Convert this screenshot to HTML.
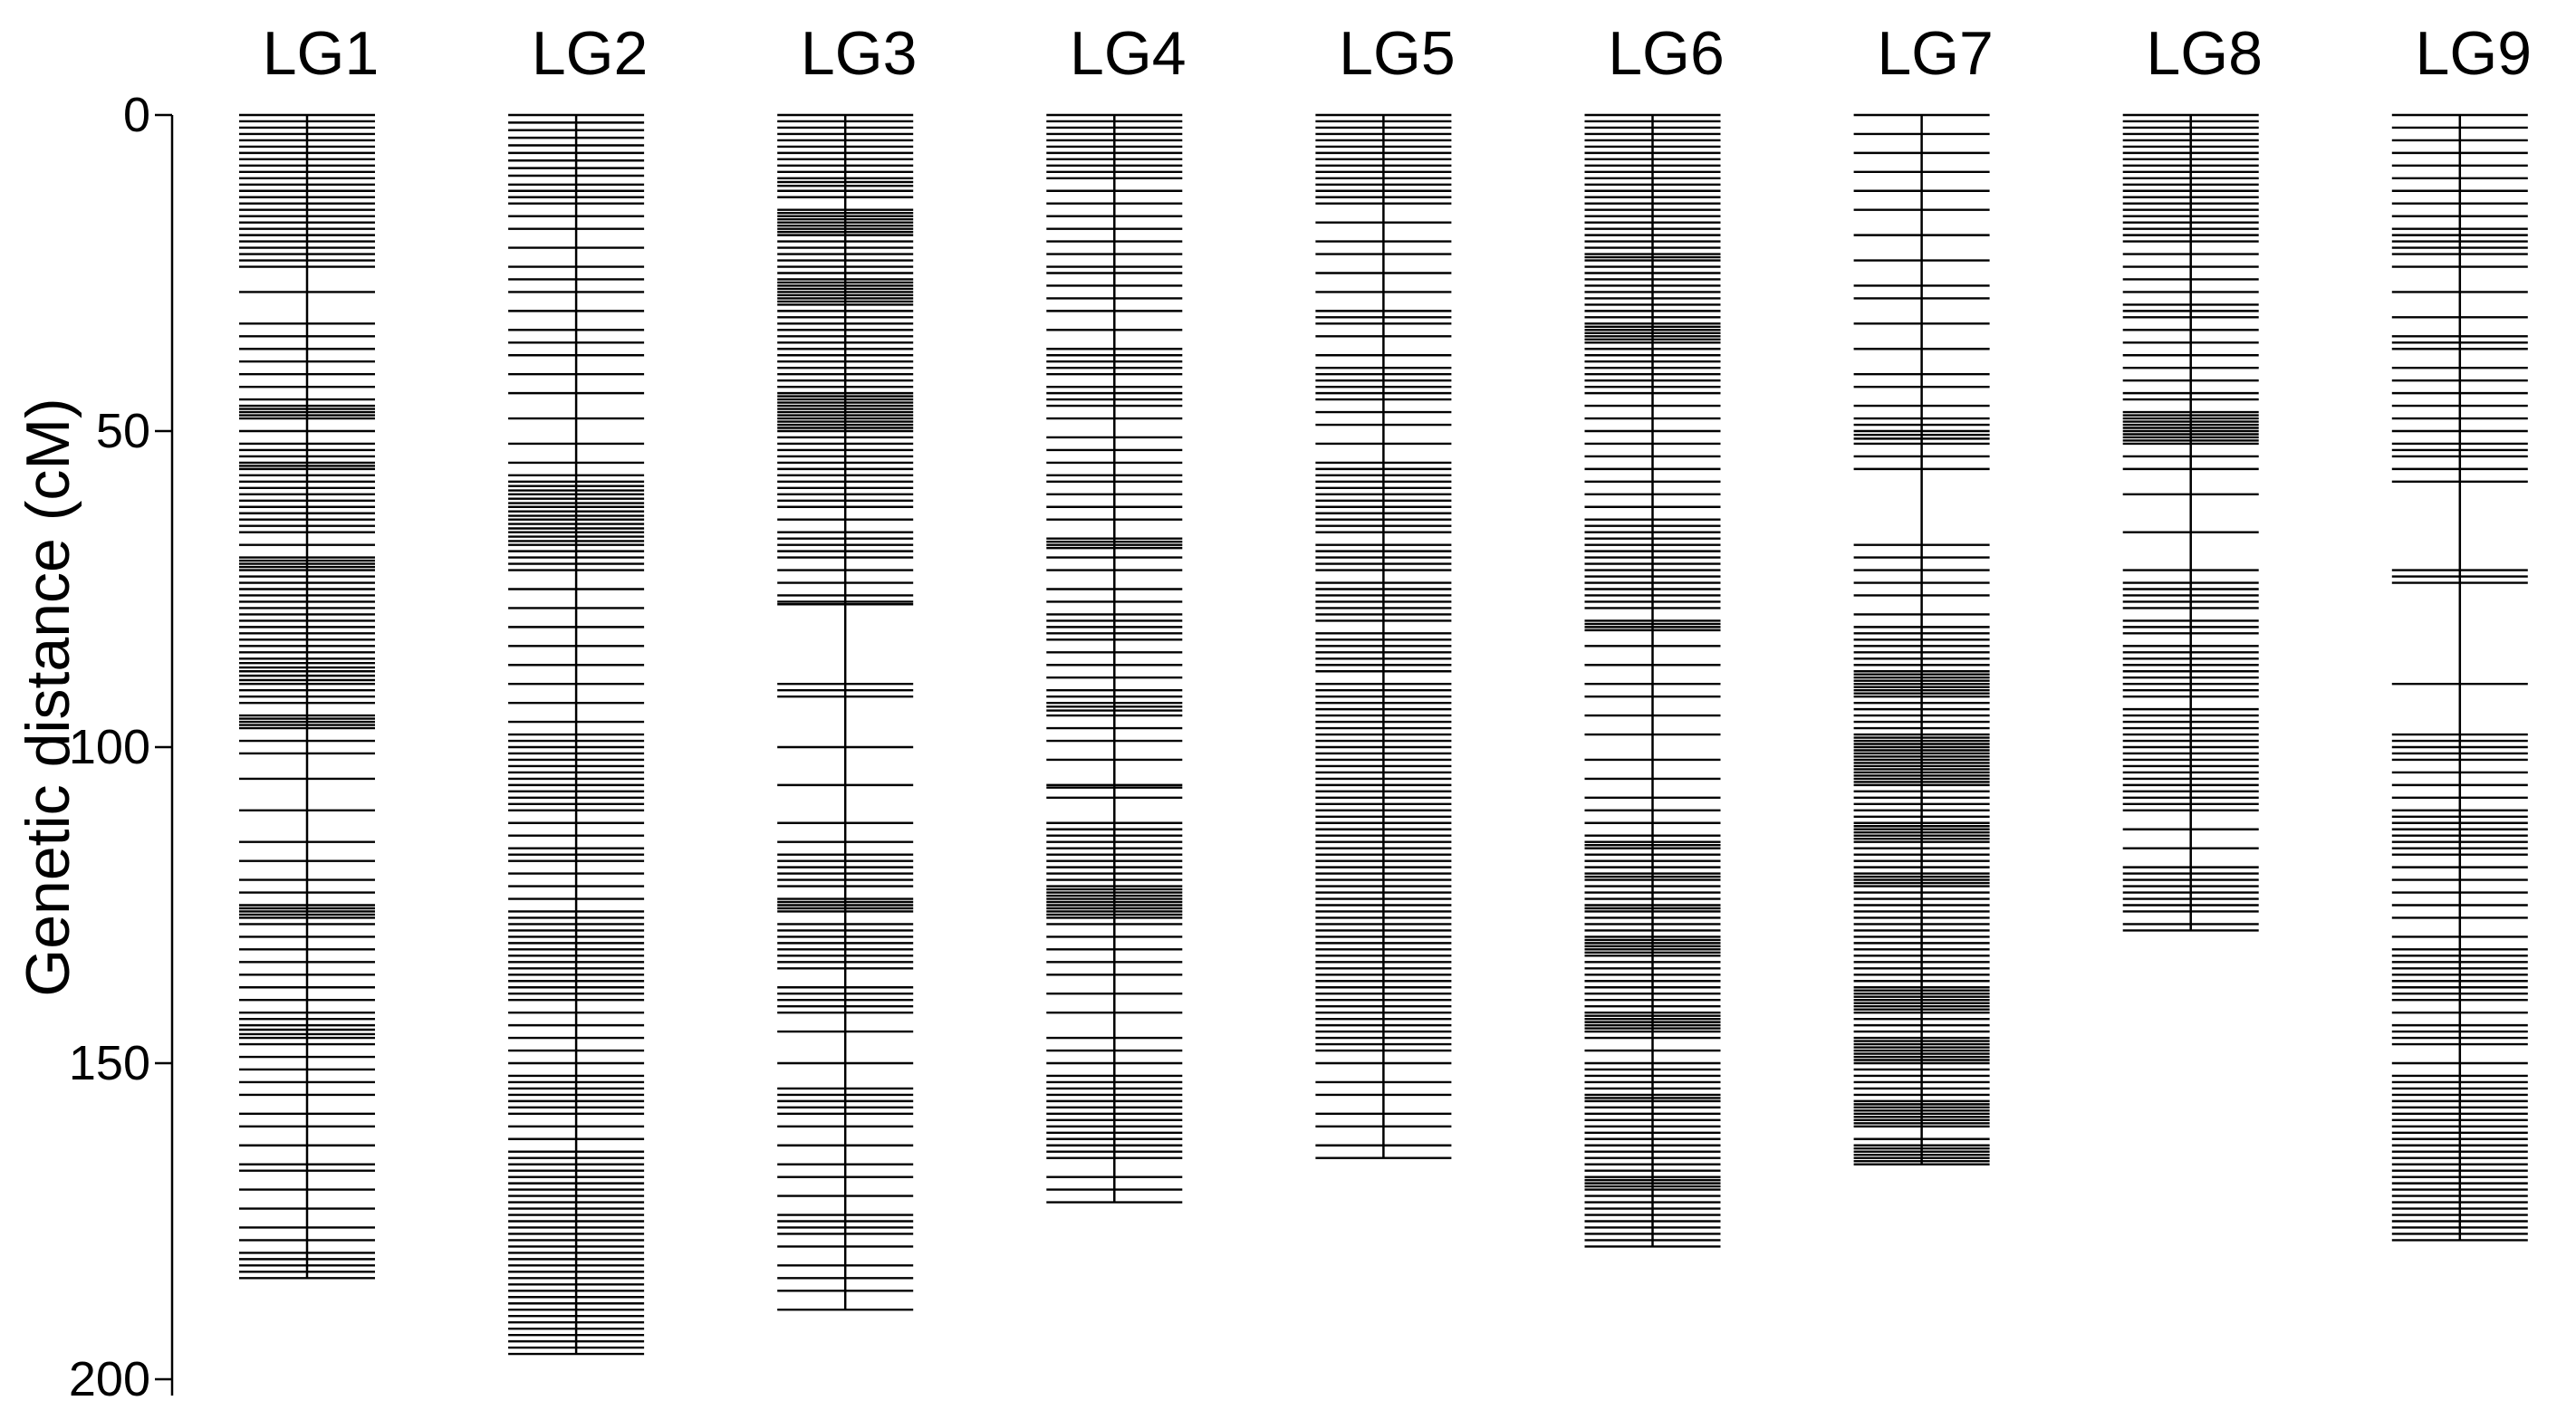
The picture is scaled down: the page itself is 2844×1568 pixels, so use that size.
<!DOCTYPE html>
<html><head><meta charset="utf-8"><style>
html,body{margin:0;padding:0;background:#fff;}
svg{display:block;font-family:"Liberation Sans",Arial,sans-serif;}
</style></head><body>
<svg id="chart" width="2844" height="1568" viewBox="0 0 2844 1568" xmlns="http://www.w3.org/2000/svg">
<g id="axis"></g>
<g id="groups"></g>
<text x="0" y="0" transform="translate(76,770) rotate(-90)" text-anchor="middle" font-size="68">Genetic distance (cM)</text>
</svg>
<script>
const groupNames = ["LG1","LG2","LG3","LG4","LG5","LG6","LG7","LG8","LG9"];
const yTicks = [0,50,100,150,200];
const lg1 = [0,1,2,3,4,5,6,7,8,9,10,11,12,13,14,15,16,17,18,19,20,21,22,23,24,28,33,35,37,39,41,43,45,46,46.5,47,47.5,48,50,52,53,54,55,55.5,56,57,58,59,60,61,62,63,64,65,66,68,70,70.5,71,71.5,72,73,74,75,76,77,78,79,80,81,82,83,84,85,86,86.7,87.4,88,88.7,89.4,90,91,92,93,95,95.5,96,96.5,97,99,101,105,110,115,118,121,123,125,125.5,126,126.5,127,128,130,132,134,136,138,140,142,143,144,144.7,145.4,146,147,149,151,153,155,158,160,163,166,167,170,173,176,178,180,181,182,183,184];
const lg2 = [0,1.2,2.4,3.6,4.8,6,7.2,8.4,9.6,11,12,13,14,16,18,21,24,26,28,31,34,36,38,41,44,48,52,55,57,58,58.7,59.4,60,60.7,61.4,62,62.7,63.4,64,64.7,65.4,66,66.7,67.4,68,69,70,71,72,75,78,81,84,87,90,93,96,98,99,100,101,102,103,104,105,106,107,108,109,110,112,114,116,117,118,120,122,124,126,127,128,129,130,131,132,133,134,135,136,137,138,139,140,142,144,146,148,150,152,153,154,155,156,157,158,160,162,164,165,166,167,168,169,170,171,172,173,174,175,176,177,178,179,180,181,182,183,184,185,186,187,188,189,190,191,192,193,194,195,196];
const lg3 = [0,1,2,3,4,5,6,7,8,9,10,10.6,11.2,12,13,15,15.5,16,16.5,17,17.5,18,18.5,19,20,21,22,23,24,25,26,26.5,27,27.5,28,28.5,29,29.5,30,31,32,33,34,35,36,37,38,39,40,41,42,43,44,44.5,45,45.5,46,46.5,47,47.5,48,48.5,49,49.5,50,51,52,53,54,55,56,57,58,59,60,61,62,64,66,67,68,69,70,72,74,76,77,77.4,90,91,92,100,106,112,115,117,118,119,120,121,122,124,124.5,125,125.5,126,128,129,130,131,132,133,134,135,138,139,140,141,142,145,150,154,155,156,157,158,160,163,166,168,171,174,175,176,177,179,182,184,186,189];
const lg4 = [0,1,2,3,4,5,6,7,8,9,10,12,14,16,18,20,22,24,25,27,29,31,34,37,38,39,40,41,43,44,45,46,48,51,53,55,57,58,60,62,64,67,67.5,68,68.5,70,72,75,77,79,80,81,82,83,85,87,89,91,92,93,93.6,94.2,95,97,99,102,106,106.4,108,112,113,114,115,116,117,118,119,120,121,122,122.5,123,123.5,124,124.5,125,125.5,126,126.5,127,128,130,132,134,136,139,142,146,148,150,152,153,154,155,156,157,158,159,160,161,162,163,164,165,168,170,172];
const lg5 = [0,1,2,3,4,5,6,7,8,9,10,11,12,13,14,17,20,22,25,28,31,32,33,35,38,40,41,42,43,44,45,47,49,52,55,56,57,58,59,60,61,62,63,64,65,66,68,69,70,71,72,74,75,76,77,78,79,80,82,83,84,85,86,87,88,90,91,92,93,94,95,96,97,98,99,100,101,102,103,104,105,106,107,108,109,110,111,112,113,114,115,116,117,118,119,120,121,122,123,124,125,126,127,128,129,130,131,132,133,134,135,136,137,138,139,140,141,142,143,144,145,146,147,148,150,153,155,158,160,163,165];
const lg6 = [0,1,2,3,4,5,6,7,8,9,10,11,12,13,14,15,16,17,18,19,20,21,22,22.5,23,24,25,26,27,28,29,30,31,32,33,33.5,34,34.5,35,35.5,36,37,38,39,40,41,42,43,44,46,48,50,52,54,56,58,60,62,64,65,66,67,68,69,70,71,72,73,74,75,76,77,78,80,80.5,81,81.5,84,87,90,92,95,98,102,105,108,110,112,114,115,115.5,116,117,118,119,120,120.5,121,122,123,124,125,125.5,126,127,128,129,130,130.5,131,131.5,132,132.5,133,134,135,136,137,138,139,140,141,142,142.5,143,143.5,144,144.5,145,146,148,150,151,152,153,154,155,155.5,156,157,158,159,160,161,162,163,164,165,166,167,168,168.5,169,169.5,170,171,172,173,174,175,176,177,178,179];
const lg7 = [0,3,6,9,12,15,19,23,27,29,33,37,41,43,46,48,49,50,50.6,51.2,52,54,56,68,70,72,74,76,79,81,82,83,84,85,86,87,88,88.5,89,89.5,90,90.5,91,91.5,92,93,94,95,96,97,98,98.5,99,99.5,100,100.5,101,101.5,102,102.5,103,103.5,104,104.5,105,105.5,106,107,108,109,110,111,112,112.5,113,113.5,114,114.5,115,116,117,118,119,120,120.5,121,121.5,122,123,124,125,126,127,128,129,130,131,132,133,134,135,136,137,138,138.5,139,139.5,140,140.5,141,141.5,142,143,144,145,146,146.5,147,147.5,148,148.5,149,149.5,150,151,152,153,154,155,156,156.5,157,157.5,158,158.5,159,159.5,160,162,163,163.5,164,164.5,165,165.5,166];
const lg8 = [0,1,2,3,4,5,6,7,8,9,10,11,12,13,14,15,16,17,18,19,20,22,24,26,28,30,31,32,34,36,38,40,42,44,45,47,47.5,48,48.5,49,49.5,50,50.5,51,51.5,52,54,56,60,66,72,74,75,76,77,78,80,81,82,84,85,86,87,88,89,90,91,92,94,95,96,97,98,99,100,101,102,103,104,105,106,107,108,109,110,113,116,119,120,121,122,123,124,125,126,128,129];
const lg9 = [0,2,4,6,8,10,12,14,16,18,19,20,21,22,24,28,32,35,36,37,40,42,44,46,48,50,52,53,54,56,58,72,73,74,90,98,99,100,101,102,104,106,108,110,111,112,113,114,115,116,117,119,121,123,125,127,130,132,133,134,135,136,137,138,139,140,142,144,145,146,147,150,152,153,154,155,156,157,158,159,160,161,162,163,164,165,166,167,168,169,170,171,172,173,174,175,176,177,178];
const groupMarkers = [lg1,lg2,lg3,lg4,lg5,lg6,lg7,lg8,lg9];

const NS = "http://www.w3.org/2000/svg";
const Y0 = 127, PXPERCM = 6.98;
function yScale(v){ return Y0 + v*PXPERCM; }
function xCenter(i){ return 339 + i*297.1; }
function mk(tag, attrs, parent){
  const e = document.createElementNS(NS, tag);
  for (const k in attrs) e.setAttribute(k, attrs[k]);
  parent.appendChild(e);
  return e;
}
const axis = document.getElementById('axis');
const axisLine = mk('line',{x1:190,x2:190,y1:yScale(0),y2:yScale(200)+18,stroke:'#000','stroke-width':2.5},axis);


yTicks.forEach(t=>{
  const tk = mk('line',{x1:171,x2:190,y1:yScale(t),y2:yScale(t),stroke:'#000','stroke-width':2.5},axis);
  
  
  const lb = mk('text',{x:166,y:yScale(t)+18,'text-anchor':'end','font-size':54},axis);
  lb.textContent = t;
  
  
});
const groups = document.getElementById('groups');
groupNames.forEach((name,i)=>{
  const g = mk('g',{},groups);
  
  
  const cx = xCenter(i);
  const lab = mk('text',{x:cx+15,y:82,'text-anchor':'middle','font-size':68},g);
  lab.textContent = name;
  
  
  const m = groupMarkers[i];
  const maxV = Math.max.apply(null, m);
  m.forEach(v=>{
    const l = mk('line',{x1:cx-75,x2:cx+75,y1:yScale(v),y2:yScale(v),stroke:'#000','stroke-width':2.4},g);
    
    
  });
  const vl = mk('line',{x1:cx,x2:cx,y1:yScale(0),y2:yScale(maxV),stroke:'#000','stroke-width':2.5},g);
  
  
});
</script>
</body></html>
